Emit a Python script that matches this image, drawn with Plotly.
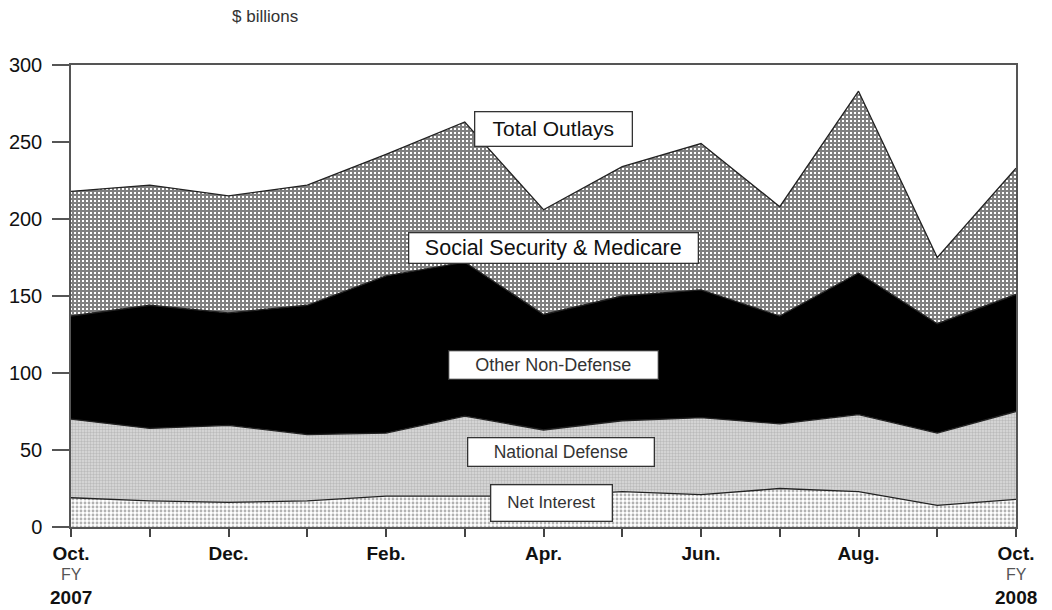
import plotly.graph_objects as go

months = ["Oct.", "Nov.", "Dec.", "Jan.", "Feb.", "Mar.", "Apr.", "May", "Jun.", "Jul.", "Aug.", "Sep.", "Oct."]
tick_labels = ["Oct.", "", "Dec.", "", "Feb.", "", "Apr.", "", "Jun.", "", "Aug.", "", "Oct."]
net_interest = [19, 17, 16, 17, 20, 20, 20, 23, 21, 25, 23, 14, 18]
national_defense = [51, 47, 50, 43, 41, 52, 43, 46, 50, 42, 50, 47, 57]
other_non_defense = [67, 80, 73, 84, 102, 100, 75, 81, 83, 70, 92, 71, 76]
ss_medicare = [81, 78, 76, 78, 79, 91, 68, 84, 95, 71, 118, 43, 82]
y_ticks = [0, 50, 100, 150, 200, 250, 300]

x = list(range(len(months)))
FONT = "Liberation Sans, Arial"

fig = go.Figure()

series = [
    ("Net Interest", net_interest, dict(shape=".", size=4, solidity=0.4, fgcolor="#666", bgcolor="white")),
    ("National Defense", national_defense, dict(shape=".", size=3, solidity=0.5, fgcolor="#999", bgcolor="#dcdcdc")),
    ("Other Non-Defense", other_non_defense, None),
    ("Social Security & Medicare", ss_medicare, dict(shape="+", size=4, solidity=0.75, fgcolor="#000", bgcolor="white")),
]

for name, vals, pat in series:
    kw = dict(x=x, y=vals, name=name, mode="lines", stackgroup="one",
              line=dict(color="#222", width=1.3), hoverinfo="skip")
    if pat is None:
        kw["fillcolor"] = "black"
    else:
        kw["fillcolor"] = pat["bgcolor"]
        kw["fillpattern"] = pat
    fig.add_trace(go.Scatter(**kw))

def box(text, xc, yc, w, h, size, color="#222"):
    fig.add_annotation(x=xc, y=yc, xref="x", yref="y", text=text, showarrow=False,
                       font=dict(family=FONT, size=size, color=color),
                       bgcolor="white", bordercolor="#333", borderwidth=1.3, borderpad=0,
                       width=w, height=h, xanchor="center", yanchor="middle")

box("Total Outlays", 6.13, 258.5, 156, 33, 21, "#111")
box("Social Security &amp; Medicare", 6.13, 181, 288, 29, 21.5, "#111")
box("Other Non-Defense", 6.13, 105, 208, 27, 18, "#333")
box("National Defense", 6.22, 48.7, 185, 27, 17.5, "#333")
box("Net Interest", 6.1, 15.6, 120, 35, 17, "#333")

PLOT_W, PLOT_H = 945, 462
fig.add_annotation(x=(264 - 70) / PLOT_W, y=1 + (64 - 16) / PLOT_H, xref="paper", yref="paper",
                   text="$ billions", showarrow=False,
                   font=dict(family=FONT, size=17, color="#333"),
                   xanchor="center", yanchor="middle")

for xi, yr in [(0, "2007"), (12, "2008")]:
    fig.add_annotation(x=xi, y=0, xref="x", yref="y", text="FY", showarrow=False,
                       font=dict(family=FONT, size=16, color="#555"),
                       yshift=-47, xanchor="center", yanchor="middle")
    fig.add_annotation(x=xi, y=0, xref="x", yref="y", text="<b>" + yr + "</b>", showarrow=False,
                       font=dict(family=FONT, size=19, color="#111"),
                       yshift=-70, xanchor="center", yanchor="middle")

fig.update_layout(
    width=1040, height=602,
    margin=dict(l=63, r=32, t=57, b=83),
    paper_bgcolor="white", plot_bgcolor="white",
    showlegend=False,
    font=dict(family=FONT, color="#111"),
)
fig.update_xaxes(range=[0, 12], tickvals=x, ticktext=["<b>" + t + "</b>" if t else "" for t in tick_labels],
                 ticks="outside", ticklen=8, tickcolor="#444", tickwidth=1.5,
                 showline=True, linecolor="#555", linewidth=1.5, mirror=True, automargin=False,
                 showgrid=False, zeroline=False, tickfont=dict(size=19, color="#111"))
fig.update_yaxes(range=[0, 300], tickvals=y_ticks, ticks="outside", ticklen=17, tickcolor="#555",
                 tickwidth=1.5, showline=True, linecolor="#555", linewidth=1.5, mirror=True, automargin=False,
                 showgrid=False, zeroline=False, tickfont=dict(size=20, color="#111"),
                 ticklabelstandoff=6)

fig.write_html("out.html")
